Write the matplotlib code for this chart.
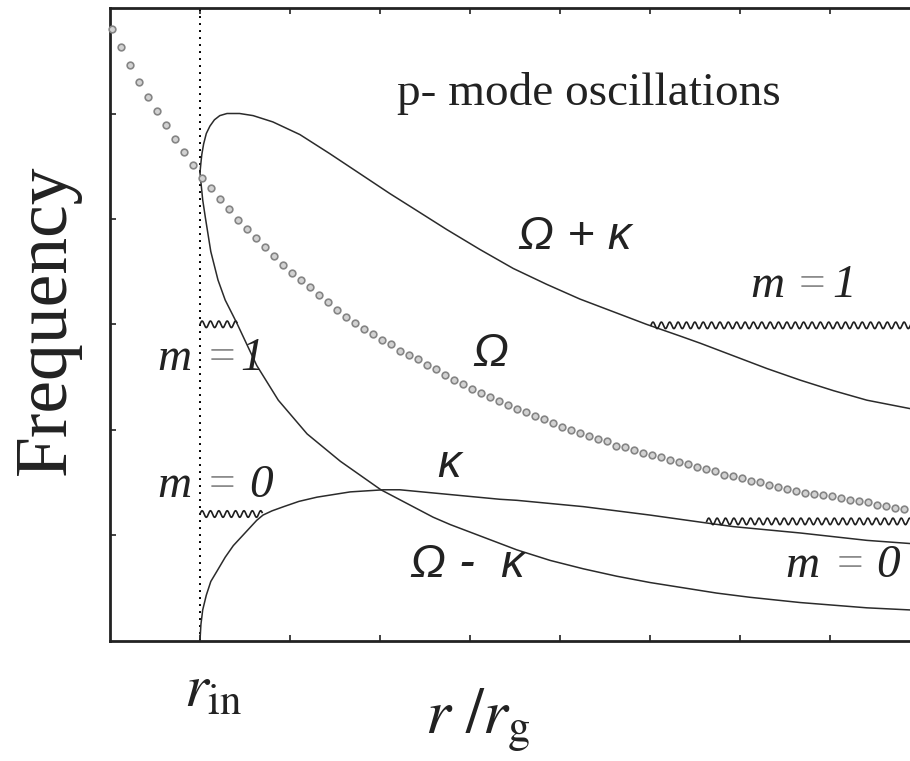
"""p-mode oscillation frequencies: Omega, kappa, Omega +/- kappa vs r."""

import numpy as np
import matplotlib
matplotlib.use("Agg")
import matplotlib.pyplot as plt

plt.rcParams["mathtext.fontset"] = "stix"

# ── data (x in tick units, r_in = 1) ───────────────────────────────
r_in = 1.0

omega_x = np.round(np.arange(89) * 0.1 + 0.02, 2)
omega_y = [5.80, 5.63, 5.46, 5.30, 5.16, 5.02, 4.89, 4.76, 4.63, 4.51,
           4.39, 4.29, 4.19, 4.09, 3.99, 3.90, 3.82, 3.73, 3.65, 3.56,
           3.49, 3.42, 3.35, 3.28, 3.21, 3.14, 3.07, 3.01, 2.96, 2.91,
           2.85, 2.81, 2.75, 2.71, 2.67, 2.61, 2.58, 2.52, 2.47, 2.43,
           2.39, 2.35, 2.31, 2.27, 2.23, 2.20, 2.17, 2.13, 2.10, 2.06,
           2.03, 2.00, 1.97, 1.94, 1.91, 1.89, 1.85, 1.84, 1.81, 1.78,
           1.76, 1.74, 1.71, 1.69, 1.67, 1.65, 1.63, 1.61, 1.57, 1.56,
           1.54, 1.51, 1.50, 1.48, 1.46, 1.44, 1.42, 1.40, 1.39, 1.38,
           1.37, 1.35, 1.33, 1.32, 1.31, 1.29, 1.28, 1.26, 1.25]

plus_x = [1.00, 1.01, 1.02, 1.04, 1.07, 1.11, 1.16, 1.22, 1.30, 1.44,
          1.59, 1.81, 2.11, 2.44, 2.74, 3.11, 3.37, 3.74, 4.11, 4.48,
          4.85, 5.22, 5.59, 5.96, 6.33, 6.56, 6.93, 7.30, 7.67, 8.04,
          8.41, 8.89]
plus_y = [4.44, 4.53, 4.61, 4.71, 4.81, 4.88, 4.94, 4.98, 5.00, 5.00,
          4.98, 4.92, 4.80, 4.62, 4.45, 4.24, 4.10, 3.90, 3.71, 3.53,
          3.38, 3.24, 3.12, 3.00, 2.89, 2.82, 2.70, 2.58, 2.47, 2.37,
          2.28, 2.20]

minus_x = [1.00, 1.01, 1.03, 1.06, 1.09, 1.12, 1.20, 1.28, 1.41, 1.63,
           1.87, 2.19, 2.56, 3.01, 3.59, 3.78, 4.15, 4.52, 4.89, 5.26,
           5.63, 6.00, 6.37, 6.74, 7.11, 7.67, 8.41, 8.89]
minus_y = [4.44, 4.35, 4.18, 4.01, 3.85, 3.69, 3.42, 3.23, 3.01, 2.61,
           2.28, 1.96, 1.70, 1.43, 1.17, 1.10, 0.98, 0.86, 0.76, 0.68,
           0.61, 0.55, 0.50, 0.45, 0.41, 0.36, 0.31, 0.29]

kappa_x = [1.00, 1.01, 1.03, 1.07, 1.12, 1.19, 1.28, 1.37, 1.50, 1.63,
           1.70, 1.80, 1.93, 2.10, 2.30, 2.67, 3.04, 3.22, 3.59, 3.96,
           4.33, 4.52, 5.26, 6.00, 6.67, 6.93, 7.67, 8.41, 8.89]
kappa_y = [0.00, 0.15, 0.29, 0.43, 0.56, 0.66, 0.79, 0.90, 1.02, 1.14,
           1.19, 1.23, 1.27, 1.32, 1.36, 1.41, 1.43, 1.43, 1.40, 1.37,
           1.34, 1.33, 1.27, 1.19, 1.11, 1.08, 1.02, 0.95, 0.92]

# trapped-mode levels: (x start, x end, frequency)
mode_m1_inner = (1.00, 1.41, 3.00)
mode_m1_outer = (6.01, 9.00, 2.99)
mode_m0_inner = (1.00, 1.69, 1.20)
mode_m0_outer = (6.63, 9.00, 1.13)

LINE = "#2b2b2b"
INK = "#222222"


def wavy(ax, span, amp=0.031, period=0.093):
    x0, x1, level = span
    xs = np.linspace(x0, x1, 600)
    ys = level + amp * np.sin(2 * np.pi * (xs - x0) / period)
    ax.plot(xs, ys, color="#1e1e1e", lw=1.2, zorder=3)


def mode_label(ax, x_m, x_eq, x_num, y, num):
    """'m = n' with the equals sign in grey, as in the original figure."""
    style = dict(family="Liberation Serif", style="italic", fontsize=34,
                 ha="left", va="baseline")
    ax.text(x_m, y, "m", color=INK, **style)
    ax.text(x_eq, y, "=", color="#8c8c8c", **style)
    ax.text(x_num, y, num, color=INK, **style)


fig = plt.figure(figsize=(9.1, 7.61), dpi=100)
ax = fig.add_axes([110 / 910, 120.5 / 761, 810 / 910, 632.4 / 761])
ax.set_xlim(0, 9.0)
ax.set_ylim(0, 6.0)

ax.axvline(r_in, color="black", lw=1.4, ls=(0, (1, 2.6)), zorder=2)
ax.plot(omega_x, omega_y, ls="none", marker="o", ms=4.8,
        mfc="#d2d2d2", mec="#858585", mew=1.2, zorder=4, clip_on=False)
ax.plot(plus_x, plus_y, color=LINE, lw=1.1, zorder=3)
ax.plot(minus_x, minus_y, color=LINE, lw=1.1, zorder=3)
ax.plot(kappa_x, kappa_y, color=LINE, lw=1.1, zorder=3)

for span in (mode_m1_inner, mode_m1_outer, mode_m0_inner, mode_m0_outer):
    wavy(ax, span)

# ── labels ─────────────────────────────────────────────────────────
serif = "Liberation Serif"
greek = dict(family="Liberation Sans", style="italic", fontsize=34,
             color=INK)

ax.text(5.32, 5.08, "p- mode oscillations", ha="center", va="baseline",
        family=serif, fontsize=34, color=INK)
ax.text(4.53, 3.71, "Ω + κ", ha="left", va="baseline", **greek)
ax.text(4.03, 2.60, "Ω", ha="left", va="baseline", **greek)
ax.text(3.64, 1.55, "κ", ha="left", va="baseline", **greek)
ax.text(3.33, 0.60, "Ω -  κ", ha="left", va="baseline", **greek)

mode_label(ax, 0.52, 1.06, 1.45, 2.57, "1")
mode_label(ax, 7.11, 7.62, 8.03, 3.26, "1")
mode_label(ax, 0.52, 1.06, 1.55, 1.36, "0")
mode_label(ax, 7.50, 8.04, 8.51, 0.60, "0")

fig.text(47 / 910, 1 - 320 / 761, "Frequency", rotation=90, ha="center",
         va="center", family=serif, fontsize=53, color=INK)
fig.text(213 / 910, 1 - 690 / 761, r"$r_{\rm in}$", ha="center",
         va="center", fontsize=44, color=INK)
fig.text(478 / 910, 1 - 720 / 761, r"$r\ /r_{\rm g}$", ha="center",
         va="center", fontsize=46, color=INK)

# ── axes styling ───────────────────────────────────────────────────
ax.set_xticks(np.arange(1, 9))
ax.set_yticks(np.arange(1, 6))
ax.tick_params(direction="in", length=4, width=1.2, top=True, right=False,
               labelbottom=False, labelleft=False, color=INK)
for side in ("left", "bottom", "top"):
    ax.spines[side].set_linewidth(2.0)
    ax.spines[side].set_color(INK)
ax.spines["right"].set_visible(False)

fig.savefig("out.png", dpi=100, facecolor="white")
